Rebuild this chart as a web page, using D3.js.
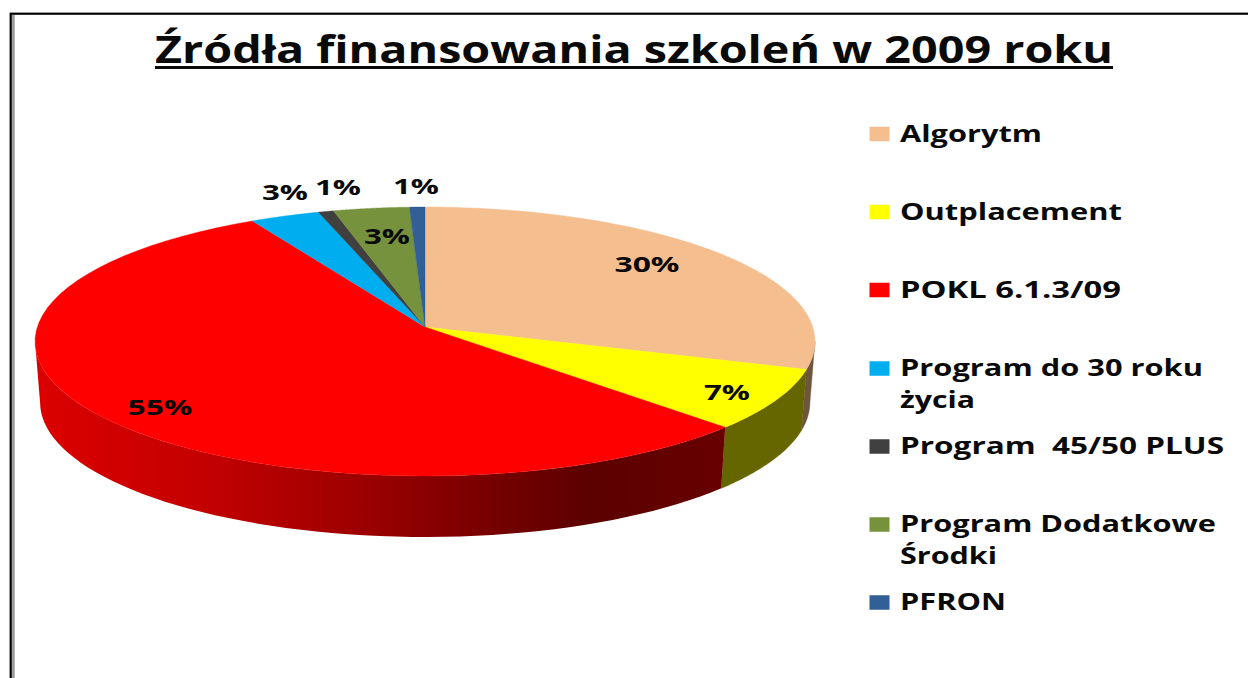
<!DOCTYPE html>
<html><head><meta charset="utf-8">
<script src="https://cdn.jsdelivr.net/npm/d3@7/dist/d3.min.js"></script>
<style>html,body{margin:0;padding:0;background:#fff}svg{display:block}text{font-family:"Open Sans","DejaVu Sans",sans-serif;font-weight:700;fill:#0a0a0a}</style>
</head><body><svg id="c" width="1248" height="678"></svg>
<script>
const titleText = "Źródła finansowania szkoleń w 2009 roku";
const categories = ["Algorytm","Outplacement","POKL 6.1.3/09","Program do 30 roku życia","Program  45/50 PLUS","Program Dodatkowe Środki","PFRON"];
const values = [30,7.3,54.6,3.2,0.7,3.49,0.71];
const colors = ["#F5BE8E","#FFFF00","#FF0000","#00AEEF","#404040","#76923C","#315F96"];
const wallColors = ["#6E5540","#666600","#FF0000","#00AEEF","#404040","#76923C","#315F96"];
const legendLines = [["Algorytm"],["Outplacement"],["POKL 6.1.3/09"],["Program do 30 roku","życia"],["Program  45/50 PLUS"],["Program Dodatkowe","Środki"],["PFRON"]];

const svg = d3.select("#c");
const defs = svg.append("defs");
const cx=425, cy=327, K=387.7, Q=132.9, p=-0.1078, depth=61, shrink=0.987;
const top3=a=>{const s=Math.sin(a),b=-Math.cos(a),d=1+p*b;return [cx+K*s/d, cy+Q*b/d];};
const bot3=a=>{const [x,y]=top3(a);return [cx+(x-cx)*shrink,y+depth];};
const line=d3.line();
const arcs=d3.pie().sort(null).value(d=>d)(values);

// frame
svg.append("rect").attr("x",10.7).attr("y",13.7).attr("width",1300).attr("height",800).attr("fill","none").attr("stroke","#000").attr("stroke-width",2.2);
svg.append("line").attr("x1",13.4).attr("x2",13.4).attr("y1",15).attr("y2",678).attr("stroke","#999").attr("stroke-width",2.6);

// title
svg.append("text").attr("x",634).attr("y",62.5).attr("text-anchor","middle").attr("font-size",37).attr("textLength",958).attr("lengthAdjust","spacingAndGlyphs").text(titleText);
svg.append("rect").attr("x",155).attr("y",66).attr("width",958).attr("height",3).attr("fill","#0a0a0a");

// red wall gradient
const gradStops=[[35,"#DC0000"],[200,"#C40000"],[380,"#980000"],[500,"#740000"],[590,"#5C0000"],[725,"#680000"]];
const gradScale=d3.scaleLinear().domain([35,725]).range([0,1]);
const grad=defs.append("linearGradient").attr("id","redWall").attr("gradientUnits","userSpaceOnUse").attr("x1",35).attr("x2",725).attr("y1",0).attr("y2",0);
gradStops.forEach(s=>grad.append("stop").attr("offset",gradScale(s[0])).attr("stop-color",s[1]));

const samples=(a0,a1)=>d3.range(0,61).map(i=>a0+(a1-a0)*i/60);
// side walls: from the right silhouette point round the front to the left one
const wallStart=Math.acos(p), wallEnd=2*Math.PI-Math.acos(p);
arcs.forEach((d,i)=>{
  const a0=Math.max(d.startAngle,wallStart), a1=Math.min(d.endAngle,wallEnd);
  if(a1<=a0) return;
  const t=samples(a0,a1);
  const pts=t.map(top3).concat(t.slice().reverse().map(bot3));
  svg.append("path").attr("d",line(pts)+"Z").attr("fill",i===2?"url(#redWall)":wallColors[i]).attr("stroke",i===2?"none":wallColors[i]).attr("stroke-width",0.4);
});
// top faces
arcs.forEach((d,i)=>{
  const pts=[[cx,cy]].concat(samples(d.startAngle,d.endAngle).map(top3));
  svg.append("path").attr("d",line(pts)+"Z").attr("fill",colors[i]).attr("stroke",colors[i]).attr("stroke-width",0.4);
});

// data labels
const labelAnchors=[[647,264],[727,392],[160,407],[285,192],[338,187],[387,236],[416,186]];
const pct=d3.format(".0%");
values.forEach((v,i)=>{
  const s=pct(Math.round(v)/100);
  svg.append("text").attr("x",labelAnchors[i][0]).attr("y",labelAnchors[i][1]).attr("dy","0.36em").attr("text-anchor","middle").attr("font-size",21).attr("textLength",s.length===3?65:46).attr("lengthAdjust","spacingAndGlyphs").text(s);
});

// legend
const legendY=[134,212,290,368.5,446.5,524.5,602.5];
const legendW={"Algorytm":142,"Outplacement":222,"POKL 6.1.3/09":221,"Program do 30 roku":303,"życia":75,"Program  45/50 PLUS":324,"Program Dodatkowe":316,"Środki":97,"PFRON":106};
categories.forEach((c,i)=>{
  svg.append("rect").attr("x",869.5).attr("y",legendY[i]-7.25).attr("width",20).attr("height",14.5).attr("fill",colors[i]);
  legendLines[i].forEach((l,j)=>{
    svg.append("text").attr("x",900).attr("y",legendY[i]+j*32+7.5).attr("font-size",23).attr("textLength",legendW[l]).attr("lengthAdjust","spacingAndGlyphs").style("white-space","pre").text(l);
  });
});
</script></body></html>
